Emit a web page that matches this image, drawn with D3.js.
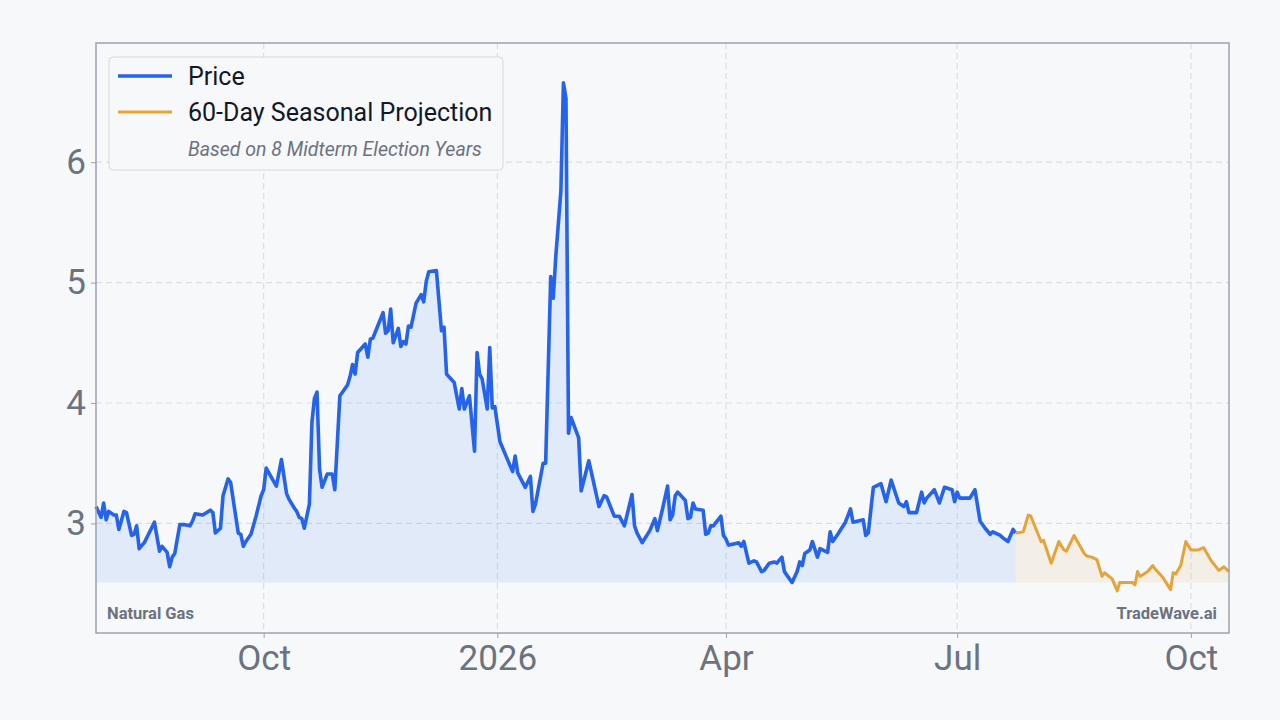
<!DOCTYPE html>
<html>
<head>
<meta charset="utf-8">
<script src="https://cdn.jsdelivr.net/npm/d3@7"></script>
<style>
  html, body { margin: 0; padding: 0; background: #f7f8fa; }
  svg { display: block; font-family: Roboto, "Noto Sans", sans-serif; }
</style>
</head>
<body>
<div id="chart"></div>
<script>
// Natural gas daily price
const priceDates = [
  "2025-07-27","2025-07-29","2025-07-30","2025-07-31","2025-08-01","2025-08-03","2025-08-04","2025-08-05",
  "2025-08-07","2025-08-08","2025-08-10","2025-08-11","2025-08-12","2025-08-13","2025-08-15","2025-08-19",
  "2025-08-21","2025-08-22","2025-08-24","2025-08-25","2025-08-26","2025-08-27","2025-08-29","2025-08-31",
  "2025-09-02","2025-09-03","2025-09-04","2025-09-07","2025-09-10","2025-09-11","2025-09-12","2025-09-14",
  "2025-09-15","2025-09-17","2025-09-18","2025-09-21","2025-09-22","2025-09-23","2025-09-24","2025-09-26",
  "2025-09-28","2025-09-30","2025-10-01","2025-10-02","2025-10-06","2025-10-08","2025-10-10","2025-10-11",
  "2025-10-13","2025-10-14","2025-10-15","2025-10-16","2025-10-17","2025-10-19","2025-10-20","2025-10-21",
  "2025-10-22","2025-10-23","2025-10-24","2025-10-26","2025-10-28","2025-10-29","2025-10-31","2025-11-01",
  "2025-11-03","2025-11-04","2025-11-05","2025-11-06","2025-11-07","2025-11-10","2025-11-11","2025-11-12",
  "2025-11-13","2025-11-17","2025-11-18","2025-11-19","2025-11-20","2025-11-21","2025-11-23","2025-11-24",
  "2025-11-25","2025-11-26","2025-11-27","2025-11-28","2025-11-30","2025-12-02","2025-12-03","2025-12-04",
  "2025-12-05","2025-12-08","2025-12-10","2025-12-11","2025-12-12","2025-12-15","2025-12-17","2025-12-18",
  "2025-12-19","2025-12-21","2025-12-23","2025-12-24","2025-12-25","2025-12-26","2025-12-28","2025-12-29",
  "2025-12-30","2025-12-31","2026-01-02","2026-01-05","2026-01-07","2026-01-08","2026-01-09","2026-01-12",
  "2026-01-14","2026-01-15","2026-01-16","2026-01-19","2026-01-20","2026-01-22","2026-01-23","2026-01-24",
  "2026-01-26","2026-01-27","2026-01-28","2026-01-29","2026-01-30","2026-02-02","2026-02-03","2026-02-06",
  "2026-02-10","2026-02-12","2026-02-13","2026-02-16","2026-02-18","2026-02-20","2026-02-23","2026-02-24",
  "2026-02-25","2026-02-27","2026-03-02","2026-03-04","2026-03-05","2026-03-07","2026-03-09","2026-03-10",
  "2026-03-11","2026-03-12","2026-03-13","2026-03-16","2026-03-17","2026-03-18","2026-03-19","2026-03-20",
  "2026-03-23","2026-03-24","2026-03-25","2026-03-26","2026-03-27","2026-03-30","2026-03-31","2026-04-01",
  "2026-04-02","2026-04-04","2026-04-06","2026-04-07","2026-04-08","2026-04-10","2026-04-12","2026-04-13",
  "2026-04-15","2026-04-16","2026-04-18","2026-04-20","2026-04-21","2026-04-23","2026-04-24","2026-04-27",
  "2026-04-29","2026-04-30","2026-05-01","2026-05-02","2026-05-04","2026-05-05","2026-05-07","2026-05-08",
  "2026-05-11","2026-05-12","2026-05-13","2026-05-15","2026-05-18","2026-05-20","2026-05-21","2026-05-25",
  "2026-05-26","2026-05-27","2026-05-29","2026-06-01","2026-06-03","2026-06-05","2026-06-08","2026-06-10",
  "2026-06-11","2026-06-12","2026-06-15","2026-06-17","2026-06-18","2026-06-19","2026-06-22","2026-06-24",
  "2026-06-26","2026-06-29","2026-06-30","2026-07-01","2026-07-02","2026-07-06","2026-07-08","2026-07-10",
  "2026-07-12","2026-07-14","2026-07-15","2026-07-18","2026-07-19","2026-07-21","2026-07-23","2026-07-24"
];
const priceValues = [
  3.14,3.05,3.17,3.03,3.10,3.07,3.07,2.95,
  3.10,3.09,2.90,2.91,2.98,2.79,2.84,3.01,
  2.77,2.81,2.76,2.64,2.72,2.75,2.99,2.99,
  2.98,3.02,3.08,3.07,3.11,3.09,2.92,2.96,
  3.23,3.37,3.34,2.92,2.91,2.81,2.85,2.91,
  3.06,3.23,3.28,3.46,3.31,3.53,3.25,3.20,
  3.13,3.10,3.05,3.04,2.96,3.16,3.84,4.04,
  4.09,3.45,3.30,3.41,3.41,3.28,4.06,4.09,
  4.15,4.22,4.32,4.24,4.42,4.49,4.38,4.53,
  4.54,4.75,4.58,4.60,4.78,4.50,4.62,4.47,
  4.51,4.49,4.64,4.63,4.83,4.90,4.84,5.01,
  5.09,5.10,4.60,4.63,4.24,4.17,3.95,4.12,
  3.95,4.06,3.60,4.42,4.24,4.20,3.95,4.46,
  3.96,3.97,3.68,3.53,3.43,3.56,3.42,3.30,
  3.39,3.10,3.16,3.50,3.50,5.05,4.87,5.22,
  5.76,6.66,6.53,3.75,3.88,3.71,3.27,3.52,
  3.14,3.23,3.22,3.06,3.06,2.98,3.24,2.98,
  2.92,2.84,2.94,3.04,2.94,3.12,3.31,3.03,
  3.07,3.23,3.26,3.19,3.04,3.05,3.17,3.12,
  3.11,2.91,2.92,2.98,2.98,3.06,2.90,2.87,
  2.82,2.83,2.84,2.81,2.85,2.67,2.69,2.68,
  2.60,2.61,2.67,2.68,2.67,2.72,2.60,2.51,
  2.60,2.68,2.65,2.75,2.78,2.85,2.72,2.79,
  2.76,2.93,2.85,2.91,3.01,3.12,3.01,3.03,
  2.90,2.92,3.30,3.33,3.18,3.36,3.17,3.14,
  3.18,3.09,3.09,3.26,3.17,3.21,3.28,3.17,
  3.30,3.28,3.18,3.26,3.21,3.21,3.28,3.02,
  2.96,2.91,2.93,2.90,2.88,2.85,2.95,2.92
];

// 60-day seasonal projection
const projDates = [
  "2026-07-24","2026-07-27","2026-07-29","2026-07-30","2026-08-03","2026-08-04","2026-08-07","2026-08-10",
  "2026-08-12","2026-08-13","2026-08-16","2026-08-20","2026-08-21","2026-08-23","2026-08-25","2026-08-27",
  "2026-08-28","2026-08-31","2026-09-02","2026-09-03","2026-09-08","2026-09-09","2026-09-10","2026-09-11",
  "2026-09-14","2026-09-16","2026-09-17","2026-09-20","2026-09-23","2026-09-24","2026-09-25","2026-09-27",
  "2026-09-29","2026-10-01","2026-10-04","2026-10-06","2026-10-09","2026-10-12","2026-10-14","2026-10-16"
];
const projValues = [
  2.92,2.93,3.07,3.06,2.85,2.86,2.67,2.85,
  2.78,2.77,2.90,2.75,2.73,2.72,2.70,2.56,
  2.59,2.54,2.44,2.51,2.51,2.49,2.60,2.56,
  2.60,2.65,2.62,2.55,2.45,2.59,2.58,2.65,
  2.85,2.78,2.78,2.80,2.69,2.61,2.64,2.60
];

const yTicks = [3, 4, 5, 6];
const legendLabels = ["Price", "60-Day Seasonal Projection"];
const legendNote = "Based on 8 Midterm Election Years";
const cornerLeft = "Natural Gas";
const cornerRight = "TradeWave.ai";

const width = 1280, height = 720;
const margin = { top: 43, right: 51, bottom: 87, left: 96 };
const plotW = width - margin.left - margin.right;
const plotH = height - margin.top - margin.bottom;

const blue = "#2563eb";
const orange = "#e5a33a";
const muted = "#6b7280";

const parse = d3.timeParse("%Y-%m-%d");
const price = priceDates.map((d, i) => ({ date: parse(d), value: priceValues[i] }));
const proj = projDates.map((d, i) => ({ date: parse(d), value: projValues[i] }));

const svg = d3.select("#chart").append("svg")
  .attr("width", width)
  .attr("height", height);

svg.append("rect").attr("width", width).attr("height", height).attr("fill", "#f7f8fa");

const g = svg.append("g").attr("transform", "translate(" + margin.left + "," + margin.top + ")");

const x = d3.scaleTime()
  .domain([price[0].date, proj[proj.length - 1].date])
  .range([0, plotW]);

const y = d3.scaleLinear()
  .domain([2.09, 6.99])
  .range([plotH, 0]);

// grid lines under everything else
g.append("g")
  .selectAll("line")
  .data(x.ticks(d3.timeMonth.every(3)))
  .join("line")
    .attr("x1", d => x(d)).attr("x2", d => x(d))
    .attr("y1", 0).attr("y2", plotH)
    .attr("stroke", "#dadee5")
    .attr("stroke-width", 1.2)
    .attr("stroke-dasharray", "6,4");

g.append("g")
  .selectAll("line")
  .data(yTicks)
  .join("line")
    .attr("x1", 0).attr("x2", plotW)
    .attr("y1", d => y(d)).attr("y2", d => y(d))
    .attr("stroke", "#dadee5")
    .attr("stroke-width", 1.2)
    .attr("stroke-dasharray", "6,4");

const baseline = d3.min(priceValues);

const area = d3.area()
  .x(d => x(d.date))
  .y0(y(baseline))
  .y1(d => y(d.value));

const line = d3.line()
  .x(d => x(d.date))
  .y(d => y(d.value));

g.append("path").attr("d", area(price)).attr("fill", "#3b82f6").attr("fill-opacity", 0.11);
g.append("path").attr("d", area(proj)).attr("fill", orange).attr("fill-opacity", 0.1);

g.append("path").attr("d", line(price))
  .attr("fill", "none").attr("stroke", blue).attr("stroke-width", 3.6)
  .attr("stroke-linejoin", "round");
g.append("path").attr("d", line(proj))
  .attr("fill", "none").attr("stroke", orange).attr("stroke-width", 3)
  .attr("stroke-linejoin", "round");

// axes
const fmtYear = d3.timeFormat("%Y"), fmtMonth = d3.timeFormat("%b");
const xAxis = g.append("g")
  .attr("transform", "translate(0," + plotH + ")")
  .call(d3.axisBottom(x)
    .ticks(d3.timeMonth.every(3))
    .tickFormat(d => d.getMonth() === 0 ? fmtYear(d) : fmtMonth(d))
    .tickSize(5)
    .tickPadding(7));

const yAxis = g.append("g")
  .call(d3.axisLeft(y)
    .tickValues(yTicks)
    .tickFormat(d3.format("d"))
    .tickSize(5)
    .tickPadding(5));

[xAxis, yAxis].forEach(function (ax) {
  ax.select(".domain").remove();
  ax.selectAll(".tick line").attr("stroke", "#9ca3af");
  ax.selectAll(".tick text")
    .attr("fill", muted)
    .attr("font-size", 35)
    .attr("font-family", "Roboto, sans-serif");
});

// corner labels
g.append("text")
  .attr("x", 11).attr("y", plotH - 14)
  .attr("font-size", 16.5).attr("font-weight", 700).attr("fill", muted)
  .text(cornerLeft);
g.append("text")
  .attr("x", plotW - 12).attr("y", plotH - 14)
  .attr("text-anchor", "end")
  .attr("font-size", 16.5).attr("font-weight", 700).attr("fill", muted)
  .text(cornerRight);

// legend
const legend = g.append("g").attr("transform", "translate(13,14)");
legend.append("rect")
  .attr("width", 394).attr("height", 113).attr("rx", 4)
  .attr("fill", "#f7f8fa").attr("fill-opacity", 0.95)
  .attr("stroke", "#d4d8de");

const legendColors = [blue, orange];
const item = legend.selectAll("g.item")
  .data(legendLabels)
  .join("g")
    .attr("class", "item")
    .attr("transform", (d, i) => "translate(0," + (19 + i * 36) + ")");
item.append("line")
  .attr("x1", 9).attr("x2", 63)
  .attr("stroke", (d, i) => legendColors[i])
  .attr("stroke-width", (d, i) => i === 0 ? 3.6 : 3);
item.append("text")
  .attr("x", 79).attr("dy", "0.35em")
  .attr("font-size", 25).attr("fill", "#111827")
  .text(d => d);
legend.append("text")
  .attr("x", 79).attr("y", 99)
  .attr("font-size", 19.5).attr("font-style", "italic").attr("fill", muted)
  .text(legendNote);

// frame
g.append("rect")
  .attr("width", plotW).attr("height", plotH)
  .attr("fill", "none")
  .attr("stroke", "#9ca3af")
  .attr("stroke-width", 1.5);
</script>
</body>
</html>
